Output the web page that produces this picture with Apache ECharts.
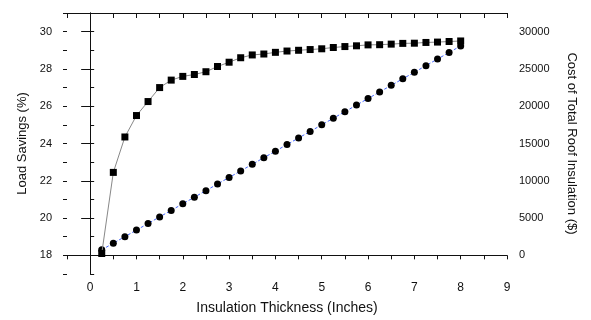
<!DOCTYPE html>
<html>
<head>
<meta charset="utf-8">
<script src="https://cdn.jsdelivr.net/npm/echarts@6.0.0/dist/echarts.min.js"></script>
<style>
    html, body { margin: 0; padding: 0; background: #fff; }
    #chart { width: 591px; height: 320px; }
</style>
</head>
<body>
<div id="chart"></div>
<script>
// insulation thickness (inches)
const thickness = [0.25, 0.5, 0.75, 1, 1.25, 1.5, 1.75, 2, 2.25, 2.5, 2.75, 3, 3.25, 3.5, 3.75, 4,
    4.25, 4.5, 4.75, 5, 5.25, 5.5, 5.75, 6, 6.25, 6.5, 6.75, 7, 7.25, 7.5, 7.75, 8];
// load savings (%), left axis
const loadSavings = [18.1, 22.45, 24.35, 25.5, 26.25, 27.0, 27.4, 27.6, 27.7, 27.85, 28.13, 28.36,
    28.6, 28.75, 28.8, 28.89, 28.96, 29.0, 29.04, 29.08, 29.15, 29.2, 29.24, 29.29, 29.3, 29.33,
    29.37, 29.38, 29.42, 29.44, 29.47, 29.5];
// cost of total roof insulation ($), right axis
const roofCost = [740, 1630, 2510, 3390, 4270, 5160, 6030, 6920, 7800, 8680, 9570, 10450, 11320,
    12210, 13100, 13970, 14860, 15740, 16620, 17500, 18390, 19260, 20150, 21030, 21910, 22800,
    23680, 24550, 25440, 26330, 27200, 28090];
const leftTicks = [18, 20, 22, 24, 26, 28, 30];

const FONT = '"Liberation Sans", Arial, sans-serif';
const AXIS_COLOR = '#111';

const axisLine = { show: true, lineStyle: { color: AXIS_COLOR, width: 1 } };
const tickStyle = { color: AXIS_COLOR, width: 1 };

const option = {
    animation: false,
    backgroundColor: '#fff',
    grid: { left: 67, right: 84, top: 13, bottom: 41 },
    xAxis: [
        {
            type: 'value',
            position: 'bottom',
            min: -0.5,
            max: 9,
            interval: 0.5,
            name: 'Insulation Thickness (Inches)',
            nameLocation: 'middle',
            nameGap: 27,
            nameTextStyle: { fontFamily: FONT, fontSize: 14, color: '#111' },
            axisLine: axisLine,
            axisTick: { show: true, length: 4, lineStyle: tickStyle },
            axisLabel: {
                fontFamily: FONT,
                fontSize: 12,
                color: '#111',
                margin: 8,
                formatter: v => (Number.isInteger(v) ? String(v) : ''),
            },
            splitLine: { show: false },
        },
        {
            type: 'value',
            position: 'top',
            min: -0.5,
            max: 9,
            interval: 0.5,
            axisLine: axisLine,
            axisTick: { show: true, inside: true, length: 5, lineStyle: tickStyle },
            axisLabel: { show: false },
            splitLine: { show: false },
        },
    ],
    yAxis: [
        {
            type: 'value',
            position: 'left',
            min: 17,
            max: 31,
            interval: 1,
            name: 'Load Savings (%)',
            nameLocation: 'middle',
            nameGap: 29,
            nameTextStyle: { fontFamily: FONT, fontSize: 13, color: '#111' },
            axisLine: axisLine,
            axisTick: { show: true, length: 9, lineStyle: tickStyle, customValues: leftTicks },
            axisLabel: {
                fontFamily: FONT,
                fontSize: 11,
                color: '#111',
                margin: 15,
                customValues: leftTicks,
            },
            splitLine: { show: false },
        },
        {
            type: 'value',
            position: 'right',
            min: -2500,
            max: 32500,
            interval: 2500,
            name: 'Cost of Total Roof Insulation ($)',
            nameLocation: 'middle',
            nameRotate: -90,
            nameGap: 58,
            nameTextStyle: { fontFamily: FONT, fontSize: 13, color: '#111' },
            axisLine: axisLine,
            axisTick: { show: true, length: 4, lineStyle: tickStyle },
            axisLabel: {
                fontFamily: FONT,
                fontSize: 11,
                color: '#111',
                margin: 12,
                formatter: v => (v % 5000 === 0 && v >= 0 ? String(v) : ''),
            },
            splitLine: { show: false },
        },
        {
            // minor ticks on the left axis
            type: 'value',
            position: 'left',
            min: 17,
            max: 31,
            interval: 1,
            axisLine: { show: false },
            axisTick: { show: true, length: 4, lineStyle: tickStyle },
            axisLabel: { show: false },
            splitLine: { show: false },
        },
    ],
    series: [
        {
            name: 'Cost',
            type: 'line',
            xAxisIndex: 0,
            yAxisIndex: 1,
            data: thickness.map((t, i) => [t, roofCost[i]]),
            symbol: 'circle',
            symbolSize: 7,
            itemStyle: { color: '#000' },
            lineStyle: { color: '#4466ff', width: 1, type: [3, 2] },
            z: 2,
        },
        {
            name: 'Load Savings',
            type: 'line',
            xAxisIndex: 0,
            yAxisIndex: 0,
            data: thickness.map((t, i) => [t, loadSavings[i]]),
            symbol: 'rect',
            symbolSize: 7,
            itemStyle: { color: '#000' },
            lineStyle: { color: '#888', width: 1 },
            z: 3,
        },
    ],
};

const chart = echarts.init(document.getElementById('chart'), null, { renderer: 'canvas' });
chart.setOption(option);
</script>
</body>
</html>
